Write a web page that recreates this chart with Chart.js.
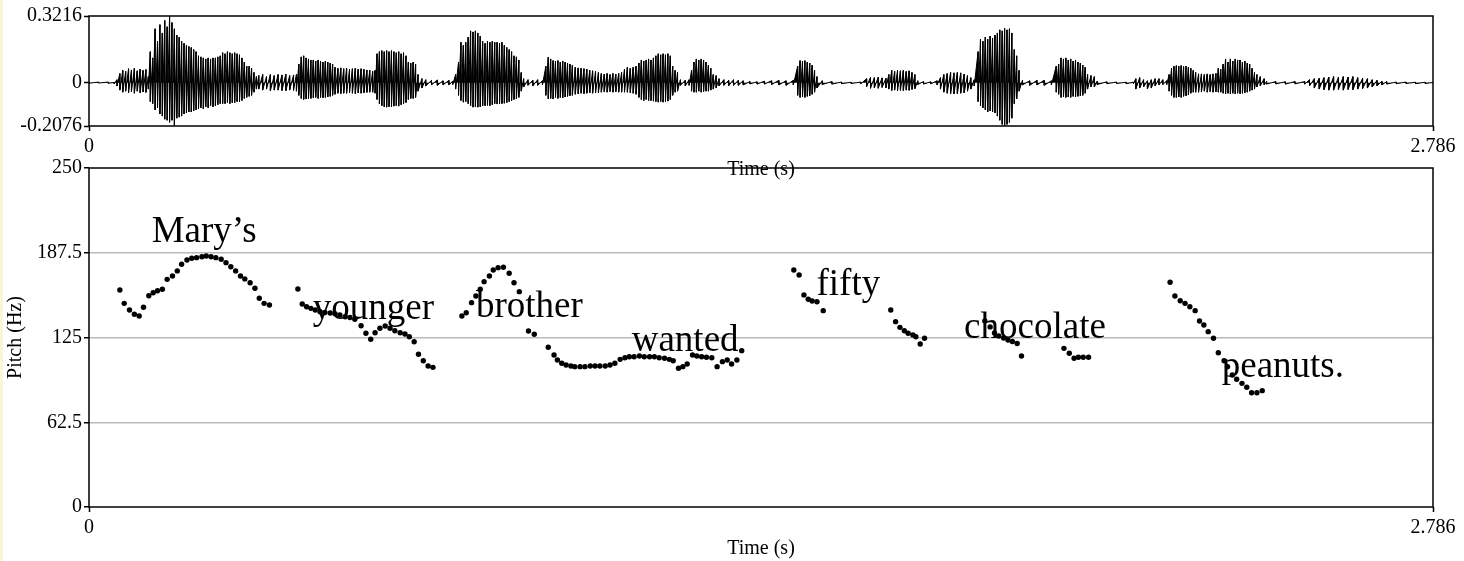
<!DOCTYPE html>
<html>
<head>
<meta charset="utf-8">
<script src="https://cdn.jsdelivr.net/npm/chart.js@4.4.1/dist/chart.umd.min.js"></script>
<style>
  html, body { margin: 0; padding: 0; background: #fff; }
  #wrap { position: relative; width: 1464px; height: 561px; overflow: hidden; background: #fff; }
  #wrap canvas { position: absolute; left: 0; top: 0; }
  #edge { position: absolute; left: 0; top: 0; width: 3px; height: 561px; background: #fbf6d8; }
</style>
</head>
<body>
<div id="wrap">
  <canvas id="waveChart" width="1464" height="561"></canvas>
  <canvas id="pitchChart" width="1464" height="561"></canvas>
  <div id="edge"></div>
</div>
<script>
// waveform envelope (seconds, upper peak, lower peak)
const waveTime = [
  0.000, 0.020, 0.040, 0.052, 0.058, 0.064, 0.070, 0.076, 0.082, 0.088, 0.094, 0.100, 0.106, 0.112, 0.118, 0.123,
  0.127, 0.132, 0.137, 0.142, 0.147, 0.152, 0.157, 0.162, 0.167, 0.172, 0.177, 0.182, 0.187, 0.192, 0.197, 0.202, 0.207, 0.212, 0.217, 0.222, 0.227, 0.232, 0.237, 0.242, 0.247, 0.252, 0.257, 0.262, 0.267, 0.272, 0.277, 0.282, 0.287, 0.292, 0.297, 0.302, 0.307, 0.312, 0.317, 0.322, 0.327, 0.332, 0.337, 0.342, 0.347,
  0.352, 0.360, 0.368, 0.376, 0.384, 0.392, 0.400, 0.408, 0.416, 0.424, 0.430,
  0.435, 0.440, 0.445, 0.450, 0.455, 0.460, 0.465, 0.470, 0.475, 0.480, 0.485, 0.490, 0.495, 0.500, 0.505, 0.510, 0.516, 0.522, 0.528, 0.534, 0.540, 0.546, 0.552, 0.558, 0.564, 0.570, 0.576, 0.582, 0.588, 0.593,
  0.597, 0.602, 0.607, 0.612, 0.617, 0.622, 0.627, 0.632, 0.637, 0.642, 0.647, 0.652, 0.657, 0.662, 0.667, 0.672, 0.677, 0.682, 0.690, 0.698,
  0.710, 0.722, 0.734, 0.746, 0.754, 0.760,
  0.766, 0.771, 0.776, 0.781, 0.786, 0.791, 0.796, 0.801, 0.806, 0.811, 0.816, 0.821, 0.826, 0.831, 0.836, 0.841, 0.846, 0.851, 0.856, 0.861, 0.866, 0.871, 0.876, 0.881, 0.886, 0.891, 0.896, 0.901,
  0.910, 0.920, 0.930, 0.940,
  0.947, 0.952, 0.957, 0.962, 0.967, 0.972, 0.977, 0.982, 0.987, 0.992, 0.997, 1.002, 1.008, 1.014, 1.020, 1.026, 1.032, 1.038, 1.044, 1.050, 1.056, 1.062, 1.068, 1.074, 1.080, 1.086, 1.092, 1.098, 1.104, 1.110, 1.116, 1.122, 1.128, 1.134, 1.140, 1.145, 1.150, 1.155, 1.160, 1.165, 1.170, 1.175, 1.180, 1.185, 1.190, 1.195, 1.200, 1.205, 1.210, 1.215, 1.220,
  1.226, 1.236, 1.244,
  1.249, 1.254, 1.259, 1.264, 1.269, 1.274, 1.279, 1.284, 1.289, 1.294, 1.300, 1.306,
  1.316, 1.326, 1.336, 1.346, 1.356, 1.370, 1.385, 1.400, 1.415, 1.430, 1.445, 1.460,
  1.469, 1.474, 1.479, 1.484, 1.489, 1.494, 1.499, 1.504, 1.509, 1.520, 1.540, 1.560, 1.580, 1.600,
  1.612, 1.620, 1.628, 1.636, 1.644, 1.652, 1.658, 1.664, 1.670, 1.676, 1.682, 1.688, 1.694, 1.700, 1.706, 1.712, 1.718, 1.730, 1.745, 1.758,
  1.765, 1.772, 1.779, 1.786, 1.793, 1.800, 1.807, 1.814, 1.821, 1.828, 1.835,
  1.843, 1.848, 1.853, 1.858, 1.863, 1.868, 1.873, 1.878, 1.883, 1.888, 1.893, 1.898, 1.903, 1.908, 1.913, 1.918, 1.923, 1.928,
  1.935, 1.950, 1.965, 1.980, 1.995,
  2.005, 2.010, 2.015, 2.020, 2.025, 2.030, 2.035, 2.040, 2.045, 2.050, 2.055, 2.060, 2.065, 2.070, 2.077, 2.084, 2.090,
  2.110, 2.130, 2.150, 2.165, 2.170, 2.178, 2.186, 2.194, 2.202, 2.210, 2.218, 2.226, 2.234,
  2.239, 2.244, 2.249, 2.254, 2.259, 2.264, 2.269, 2.274, 2.279, 2.284, 2.289, 2.294, 2.300, 2.306, 2.312, 2.318, 2.324, 2.330, 2.336, 2.341, 2.346, 2.351, 2.356, 2.361, 2.366, 2.371, 2.376, 2.381, 2.386, 2.391, 2.396, 2.401, 2.406, 2.411, 2.416, 2.421, 2.428, 2.436, 2.441,
  2.460, 2.480, 2.500, 2.520, 2.530, 2.540, 2.550, 2.560, 2.570, 2.580, 2.590, 2.600, 2.610, 2.620, 2.630, 2.640, 2.650, 2.660, 2.670, 2.680, 2.690, 2.710, 2.730, 2.750, 2.770, 2.786
];
const waveHigh = [
  0.002, 0.004, 0.004, 0.002, 0.015, 0.045, 0.060, 0.055, 0.068, 0.062, 0.070, 0.058, 0.066, 0.060, 0.064, 0.030,
  0.150, 0.120, 0.260, 0.200, 0.280, 0.240, 0.300, 0.270, 0.321, 0.290, 0.260, 0.230, 0.220, 0.200, 0.190, 0.180, 0.175, 0.170, 0.160, 0.150, 0.130, 0.125, 0.120, 0.115, 0.120, 0.115, 0.120, 0.120, 0.125, 0.130, 0.145, 0.140, 0.150, 0.145, 0.140, 0.145, 0.140, 0.135, 0.120, 0.100, 0.080, 0.080, 0.070, 0.050, 0.030,
  0.035, 0.040, 0.030, 0.040, 0.035, 0.040, 0.038, 0.042, 0.035, 0.038, 0.040,
  0.090, 0.125, 0.130, 0.120, 0.115, 0.110, 0.110, 0.105, 0.110, 0.105, 0.100, 0.105, 0.100, 0.095, 0.090, 0.075, 0.070, 0.072, 0.068, 0.070, 0.065, 0.068, 0.070, 0.066, 0.068, 0.065, 0.062, 0.060, 0.055, 0.060,
  0.140, 0.150, 0.155, 0.150, 0.155, 0.150, 0.155, 0.150, 0.145, 0.150, 0.140, 0.145, 0.130, 0.100, 0.095, 0.100, 0.090, 0.040, 0.020, 0.015,
  0.012, 0.014, 0.010, 0.012, 0.008, 0.040,
  0.100, 0.195, 0.180, 0.195, 0.220, 0.250, 0.245, 0.250, 0.240, 0.225, 0.200, 0.190, 0.200, 0.195, 0.200, 0.195, 0.195, 0.190, 0.195, 0.180, 0.170, 0.160, 0.150, 0.130, 0.125, 0.110, 0.050, 0.020,
  0.015, 0.012, 0.015, 0.010,
  0.080, 0.123, 0.115, 0.107, 0.105, 0.107, 0.100, 0.105, 0.100, 0.095, 0.090, 0.085, 0.075, 0.072, 0.070, 0.068, 0.065, 0.060, 0.058, 0.055, 0.050, 0.045, 0.042, 0.045, 0.040, 0.045, 0.042, 0.045, 0.050, 0.065, 0.075, 0.070, 0.075, 0.080, 0.095, 0.110, 0.105, 0.110, 0.115, 0.110, 0.120, 0.130, 0.140, 0.135, 0.140, 0.135, 0.140, 0.130, 0.080, 0.060, 0.050,
  0.015, 0.012, 0.015,
  0.060, 0.100, 0.115, 0.110, 0.115, 0.110, 0.100, 0.085, 0.070, 0.040, 0.035, 0.020,
  0.015, 0.012, 0.015, 0.012, 0.010, 0.006, 0.005, 0.008, 0.010, 0.012, 0.010, 0.012,
  0.080, 0.107, 0.105, 0.107, 0.100, 0.095, 0.085, 0.060, 0.030, 0.010, 0.006, 0.004, 0.003, 0.004,
  0.020, 0.027, 0.025, 0.027, 0.024, 0.022, 0.040, 0.060, 0.055, 0.060, 0.058, 0.060, 0.055, 0.058, 0.050, 0.040, 0.010, 0.006, 0.005, 0.010,
  0.025, 0.040, 0.045, 0.050, 0.048, 0.050, 0.048, 0.042, 0.035, 0.025, 0.015,
  0.150, 0.210, 0.200, 0.220, 0.210, 0.225, 0.215, 0.230, 0.240, 0.255, 0.250, 0.262, 0.255, 0.260, 0.240, 0.160, 0.130, 0.060,
  0.012, 0.010, 0.012, 0.012, 0.010,
  0.080, 0.090, 0.120, 0.115, 0.120, 0.110, 0.115, 0.105, 0.110, 0.100, 0.095, 0.085, 0.075, 0.040, 0.035, 0.030, 0.008,
  0.005, 0.004, 0.003, 0.003, 0.020, 0.025, 0.015, 0.010, 0.015, 0.020, 0.020, 0.015, 0.010,
  0.040, 0.070, 0.080, 0.083, 0.080, 0.083, 0.078, 0.080, 0.075, 0.070, 0.060, 0.050, 0.043, 0.043, 0.040, 0.043, 0.040, 0.043, 0.045, 0.070, 0.065, 0.090, 0.115, 0.100, 0.115, 0.105, 0.115, 0.110, 0.110, 0.100, 0.105, 0.095, 0.090, 0.070, 0.050, 0.040, 0.030, 0.020, 0.006,
  0.006, 0.005, 0.006, 0.006, 0.015, 0.020, 0.022, 0.025, 0.028, 0.030, 0.027, 0.030, 0.028, 0.030, 0.025, 0.022, 0.020, 0.015, 0.012, 0.008, 0.006, 0.004, 0.004, 0.003, 0.003, 0.002
];
const waveLow = [
  -0.002, -0.001, -0.002, -0.004, -0.015, -0.035, -0.045, -0.040, -0.048, -0.042, -0.050, -0.040, -0.048, -0.044, -0.046, -0.030,
  -0.090, -0.100, -0.130, -0.120, -0.150, -0.160, -0.175, -0.180, -0.190, -0.180, -0.205, -0.170, -0.165, -0.160, -0.150, -0.145, -0.140, -0.140, -0.135, -0.130, -0.125, -0.120, -0.125, -0.115, -0.120, -0.110, -0.115, -0.110, -0.105, -0.100, -0.100, -0.100, -0.095, -0.100, -0.095, -0.095, -0.090, -0.090, -0.085, -0.075, -0.070, -0.065, -0.060, -0.045, -0.030,
  -0.030, -0.035, -0.030, -0.038, -0.035, -0.035, -0.037, -0.038, -0.035, -0.036, -0.040,
  -0.060, -0.075, -0.080, -0.078, -0.075, -0.075, -0.072, -0.070, -0.075, -0.070, -0.072, -0.070, -0.068, -0.065, -0.060, -0.055, -0.050, -0.052, -0.050, -0.050, -0.048, -0.050, -0.052, -0.048, -0.050, -0.048, -0.046, -0.045, -0.045, -0.050,
  -0.080, -0.100, -0.110, -0.115, -0.117, -0.115, -0.115, -0.112, -0.110, -0.112, -0.105, -0.100, -0.095, -0.080, -0.075, -0.075, -0.070, -0.040, -0.025, -0.015,
  -0.010, -0.012, -0.010, -0.010, -0.008, -0.030,
  -0.060, -0.085, -0.093, -0.090, -0.100, -0.110, -0.117, -0.115, -0.117, -0.115, -0.110, -0.110, -0.108, -0.110, -0.105, -0.100, -0.102, -0.100, -0.100, -0.098, -0.095, -0.090, -0.085, -0.080, -0.077, -0.070, -0.040, -0.020,
  -0.012, -0.015, -0.012, -0.010,
  -0.060, -0.077, -0.075, -0.077, -0.070, -0.075, -0.070, -0.072, -0.068, -0.065, -0.062, -0.060, -0.055, -0.053, -0.050, -0.052, -0.050, -0.048, -0.050, -0.048, -0.047, -0.045, -0.043, -0.045, -0.042, -0.045, -0.043, -0.045, -0.045, -0.045, -0.045, -0.048, -0.050, -0.055, -0.070, -0.080, -0.085, -0.080, -0.085, -0.085, -0.088, -0.090, -0.093, -0.090, -0.093, -0.090, -0.088, -0.080, -0.060, -0.045, -0.040,
  -0.012, -0.015, -0.012,
  -0.040, -0.045, -0.045, -0.040, -0.045, -0.042, -0.040, -0.040, -0.035, -0.030, -0.025, -0.015,
  -0.012, -0.014, -0.012, -0.012, -0.010, -0.005, -0.006, -0.006, -0.008, -0.010, -0.012, -0.010,
  -0.060, -0.070, -0.068, -0.070, -0.065, -0.062, -0.055, -0.045, -0.025, -0.008, -0.006, -0.004, -0.003, -0.004,
  -0.018, -0.026, -0.024, -0.026, -0.022, -0.024, -0.030, -0.037, -0.035, -0.037, -0.036, -0.037, -0.035, -0.036, -0.032, -0.028, -0.008, -0.006, -0.005, -0.010,
  -0.030, -0.045, -0.050, -0.053, -0.053, -0.052, -0.050, -0.048, -0.040, -0.030, -0.015,
  -0.090, -0.110, -0.120, -0.130, -0.140, -0.135, -0.140, -0.145, -0.160, -0.180, -0.200, -0.207, -0.200, -0.190, -0.170, -0.100, -0.077, -0.040,
  -0.010, -0.012, -0.010, -0.012, -0.010,
  -0.045, -0.055, -0.070, -0.068, -0.070, -0.068, -0.070, -0.065, -0.068, -0.065, -0.062, -0.060, -0.050, -0.030, -0.020, -0.020, -0.008,
  -0.004, -0.003, -0.004, -0.003, -0.030, -0.025, -0.020, -0.029, -0.025, -0.015, -0.010, -0.008, -0.008,
  -0.040, -0.060, -0.070, -0.070, -0.068, -0.070, -0.065, -0.062, -0.058, -0.050, -0.045, -0.045, -0.045, -0.043, -0.040, -0.045, -0.042, -0.045, -0.043, -0.045, -0.045, -0.050, -0.053, -0.050, -0.053, -0.050, -0.053, -0.050, -0.052, -0.050, -0.048, -0.045, -0.040, -0.035, -0.030, -0.020, -0.015, -0.010, -0.006,
  -0.005, -0.006, -0.005, -0.006, -0.015, -0.025, -0.030, -0.033, -0.035, -0.035, -0.032, -0.035, -0.032, -0.033, -0.030, -0.028, -0.025, -0.020, -0.015, -0.010, -0.006, -0.004, -0.003, -0.004, -0.003, -0.002
];

// pitch track (seconds, Hz), one row per word
const pitchTime = [
  0.064, 0.073, 0.084, 0.094, 0.104, 0.113, 0.124, 0.133, 0.142, 0.152, 0.162, 0.173, 0.183, 0.192, 0.203, 0.213, 0.223, 0.234, 0.243, 0.253, 0.263, 0.274, 0.284, 0.294, 0.304, 0.314, 0.323, 0.334, 0.344, 0.353, 0.363, 0.374,
  0.433, 0.442, 0.451, 0.460, 0.469, 0.479, 0.489, 0.500, 0.510, 0.520, 0.531, 0.541, 0.551, 0.564, 0.574, 0.584, 0.593, 0.603, 0.614, 0.624, 0.634, 0.645, 0.655, 0.664, 0.674, 0.683, 0.693, 0.703, 0.713,
  0.773, 0.782, 0.793, 0.802, 0.811, 0.819, 0.830, 0.838, 0.848, 0.859, 0.871, 0.881, 0.892, 0.911, 0.923,
  0.952, 0.964, 0.971, 0.980, 0.989, 0.999, 1.007, 1.018, 1.028, 1.039, 1.049, 1.059, 1.070, 1.080, 1.090, 1.101, 1.111, 1.120, 1.130, 1.141, 1.151, 1.162, 1.172, 1.182, 1.193, 1.203, 1.211, 1.222, 1.231, 1.240, 1.251, 1.260, 1.270, 1.280, 1.291, 1.302, 1.313, 1.323, 1.332, 1.343, 1.353,
  1.461, 1.472, 1.482, 1.491, 1.499, 1.509, 1.522,
  1.662, 1.672, 1.681, 1.690, 1.698, 1.708, 1.714, 1.723, 1.732,
  1.857, 1.868, 1.877, 1.886, 1.896, 1.905, 1.914, 1.924, 1.933,
  2.021, 2.032, 2.042, 2.051, 2.061, 2.072,
  2.241, 2.251, 2.262, 2.272, 2.282, 2.293, 2.302, 2.311, 2.320, 2.331, 2.341, 2.353, 2.360, 2.370, 2.379, 2.390, 2.400, 2.410, 2.421, 2.432
];
const pitchHz = [
  160.0, 150.2, 145.3, 142.1, 140.9, 147.3, 155.8, 158.0, 159.5, 160.6, 167.9, 170.4, 174.1, 179.0, 182.2, 183.4, 183.9, 184.6, 185.1, 184.6, 183.9, 182.7, 180.2, 177.2, 174.1, 170.4, 168.2, 165.4, 161.3, 153.9, 150.2, 149.0,
  160.8, 149.7, 147.7, 146.5, 145.3, 144.0, 143.4, 143.1, 142.6, 141.6, 140.3, 139.8, 138.4, 133.7, 128.1, 123.7, 128.5, 131.8, 133.5, 131.8, 130.0, 128.5, 127.6, 125.6, 121.9, 112.6, 107.9, 104.0, 103.0,
  140.9, 143.3, 150.7, 155.6, 160.6, 166.2, 170.4, 174.8, 176.5, 176.8, 172.4, 165.4, 158.8, 129.8, 127.4,
  117.8, 112.1, 108.4, 106.0, 104.7, 104.0, 103.5, 103.5, 103.5, 104.0, 104.0, 104.0, 104.0, 104.7, 106.0, 108.9, 110.1, 110.8, 110.8, 111.4, 110.8, 110.8, 110.8, 110.1, 109.7, 108.9, 107.9, 102.3, 103.5, 105.5, 112.1, 111.4, 110.8, 110.4, 110.1, 103.5, 107.2, 108.4, 105.5, 108.4, 115.3,
  174.8, 171.1, 156.4, 153.2, 151.9, 151.4, 144.8,
  145.3, 136.7, 132.5, 130.0, 128.1, 126.9, 125.6, 120.2, 124.4,
  137.2, 132.8, 128.3, 126.1, 124.6, 123.2, 122.1, 120.6, 111.4,
  117.0, 113.4, 109.7, 110.4, 110.4, 110.4,
  165.7, 155.6, 152.1, 150.2, 147.7, 144.8, 137.2, 134.2, 129.3, 124.4, 113.8, 107.9, 103.5, 97.4, 94.2, 91.2, 88.3, 84.3, 84.3, 85.8
];

// words written over the pitch track (left edge time, baseline Hz)
const wordText = ['Mary\u2019s', 'younger', 'brother', 'wanted', 'fifty', 'chocolate', 'peanuts.'];
const wordTime = [0.130, 0.464, 0.802, 1.125, 1.508, 1.814, 2.348];
const wordHz = [195.4, 138.7, 139.9, 115.3, 156.4, 124.4, 96.1];

// axis ticks
const timeTicks = [0, 2.786];
const waveTicks = [-0.2076, 0, 0.3216];
const pitchTicks = [0, 62.5, 125, 187.5, 250];

const FONT = '"Liberation Serif", "Times New Roman", serif';

const wavePoints = [];
waveTime.forEach((t, i) => {
    wavePoints.push({ x: t, y: waveHigh[i] }, { x: t, y: waveLow[i] });
});
const pitchPoints = pitchTime.map((t, i) => ({ x: t, y: pitchHz[i] }));

// box round the plot area
const framePlugin = {
    id: 'frame',
    beforeDatasetsDraw(chart) {
        const { ctx, chartArea: a } = chart;
        ctx.save();
        ctx.strokeStyle = '#000';
        ctx.lineWidth = 1.5;
        ctx.strokeRect(a.left, a.top, a.right - a.left, a.bottom - a.top);
        ctx.restore();
    }
};

const wordPlugin = {
    id: 'words',
    afterDatasetsDraw(chart) {
        const { ctx, scales: { x, y } } = chart;
        ctx.save();
        ctx.font = '37px ' + FONT;
        ctx.fillStyle = '#000';
        ctx.textBaseline = 'alphabetic';
        wordText.forEach((w, i) => {
            ctx.fillText(w, x.getPixelForValue(wordTime[i]), y.getPixelForValue(wordHz[i]));
        });
        ctx.restore();
    }
};

const tickFont = { family: FONT, size: 20 };
const titleFont = { family: FONT, size: 20 };

function timeAxis(height) {
    return {
        type: 'linear',
        min: 0,
        max: 2.786,
        afterBuildTicks: s => { s.ticks = timeTicks.map(v => ({ value: v })); },
        afterFit: s => { s.height = height; },
        border: { display: false },
        grid: { drawOnChartArea: false, drawTicks: true, tickLength: 5, tickColor: '#000', tickWidth: 1.5 },
        ticks: { color: '#000', font: tickFont, padding: 4, maxRotation: 0, autoSkip: false, callback: v => String(v) },
        title: { display: true, text: 'Time (s)', color: '#000', font: titleFont, padding: { top: 0, bottom: 0 } }
    };
}

new Chart(document.getElementById('waveChart'), {
    type: 'line',
    data: {
        datasets: [{
            data: wavePoints,
            borderColor: '#000',
            backgroundColor: '#000',
            borderWidth: 1,
            pointRadius: 0,
            tension: 0,
            fill: 'origin'
        }]
    },
    options: {
        responsive: false,
        animation: false,
        events: [],
        layout: { padding: { left: 0, right: 31, top: 16, bottom: 379 } },
        plugins: { legend: { display: false }, tooltip: { enabled: false } },
        scales: {
            x: timeAxis(56),
            y: {
                min: -0.2076,
                max: 0.3216,
                afterBuildTicks: s => { s.ticks = waveTicks.map(v => ({ value: v })); },
                afterFit: s => { s.width = 89; },
                border: { display: false },
                grid: { drawOnChartArea: false, tickLength: 5, tickColor: '#000', tickWidth: 1.5 },
                ticks: { color: '#000', font: tickFont, padding: 2, callback: v => String(v) }
            }
        }
    },
    plugins: [framePlugin]
});

new Chart(document.getElementById('pitchChart'), {
    type: 'scatter',
    data: {
        datasets: [{
            data: pitchPoints,
            backgroundColor: '#000',
            borderWidth: 0,
            pointRadius: 2.7
        }]
    },
    options: {
        responsive: false,
        animation: false,
        events: [],
        layout: { padding: { left: 0, right: 31, top: 168, bottom: 0 } },
        plugins: { legend: { display: false }, tooltip: { enabled: false } },
        scales: {
            x: timeAxis(54),
            y: {
                min: 0,
                max: 250,
                afterBuildTicks: s => { s.ticks = pitchTicks.map(v => ({ value: v })); },
                afterFit: s => { s.width = 89; },
                border: { display: false },
                grid: {
                    color: c => (c.tick && (c.tick.value === 0 || c.tick.value === 250)) ? 'rgba(0,0,0,0)' : '#b9b9b9',
                    lineWidth: 1.5,
                    tickLength: 5,
                    tickColor: '#000',
                    tickWidth: 1.5
                },
                ticks: { color: '#000', font: tickFont, padding: 2, callback: v => String(v) },
                title: { display: true, text: 'Pitch (Hz)', color: '#000', font: titleFont, padding: { top: 4, bottom: 0 } }
            }
        }
    },
    plugins: [framePlugin, wordPlugin]
});
</script>
</body>
</html>
